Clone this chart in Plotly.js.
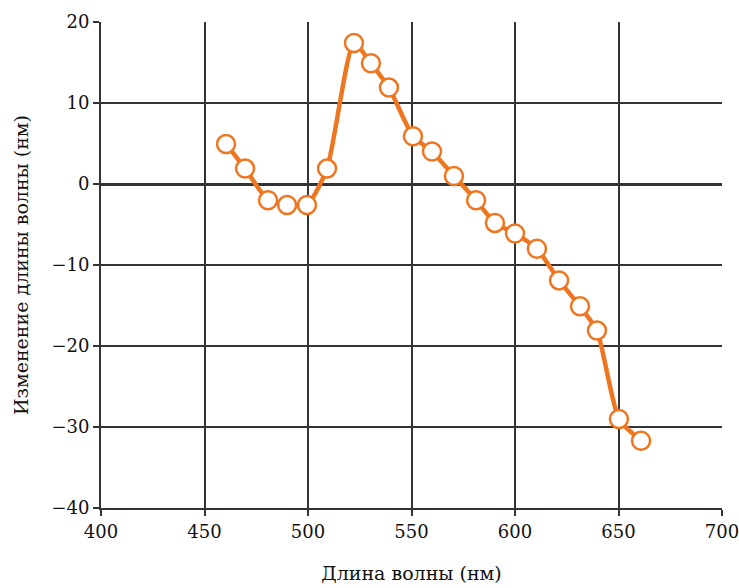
<!DOCTYPE html>
<html><head><meta charset="utf-8">
<script src="https://cdn.plot.ly/plotly-3.0.1.min.js"></script>
<style>html,body{margin:0;padding:0;background:#fff}#chart{width:739px;height:588px}</style>
</head><body><div id="chart"></div>
<script>
const wavelength = [460.4, 469.6, 480.7, 489.9, 499.5, 509.2, 522.2, 530.4, 539.1, 550.7, 559.9, 570.5, 581.2, 590.3, 600.0, 610.6, 621.3, 631.4, 639.6, 650.2, 660.9];
const shift = [4.95, 1.9, -2.0, -2.6, -2.6, 1.9, 17.4, 14.9, 11.9, 5.9, 4.0, 1.0, -2.0, -4.8, -6.1, -8.0, -11.9, -15.1, -18.1, -29.0, -31.7];
const xTicks = [400, 450, 500, 550, 600, 650, 700];
const yTicks = [-40, -30, -20, -10, 0, 10, 20];
const yTickLabels = ['\u221240', '\u221230', '\u221220', '\u221210', '0', '10', '20'];
const xTitle = 'Длина волны (нм)';
const yTitle = 'Изменение длины волны (нм)';

const orange = '#EF7620';
const fontFam = 'DejaVu Serif, Liberation Serif, serif';
const txt = '#111';
const trace = {
  x: wavelength, y: shift, type: 'scatter', mode: 'lines+markers',
  line: {color: orange, width: 4.5, shape: 'spline', smoothing: 0.6},
  marker: {size: 18, color: '#ffffff', line: {color: orange, width: 2.5}},
  cliponaxis: false, hoverinfo: 'skip'
};
const layout = {
  width: 739, height: 588,
  margin: {l: 101, r: 17, t: 22, b: 80},
  paper_bgcolor: '#fff', plot_bgcolor: '#fff',
  showlegend: false,
  font: {family: fontFam, color: txt, size: 18},
  xaxis: {
    range: [400, 700], tickvals: xTicks, ticktext: xTicks.map(String),
    showgrid: true, gridcolor: '#333', gridwidth: 2,
    showline: true, linecolor: '#333', linewidth: 2, mirror: false,
    ticks: 'outside', ticklen: 6, tickwidth: 2, tickcolor: '#333',
    zeroline: false, fixedrange: true, ticklabeloverflow: 'allow',
    tickfont: {family: fontFam, size: 18, color: txt},
    title: {text: xTitle, font: {family: fontFam, size: 19, color: txt}, standoff: 26}
  },
  yaxis: {
    range: [-40, 20], tickvals: yTicks, ticktext: yTickLabels,
    showgrid: true, gridcolor: '#333', gridwidth: 2,
    showline: true, linecolor: '#333', linewidth: 2,
    ticks: 'outside', ticklen: 6, tickwidth: 2, tickcolor: '#333',
    zeroline: true, zerolinecolor: '#333', zerolinewidth: 3, fixedrange: true,
    tickfont: {family: fontFam, size: 18, color: txt},
    title: {text: yTitle, font: {family: fontFam, size: 19, color: txt}, standoff: 18}
  }
};
Plotly.newPlot('chart', [trace], layout, {displayModeBar: false, staticPlot: true});
</script>
</body></html>
